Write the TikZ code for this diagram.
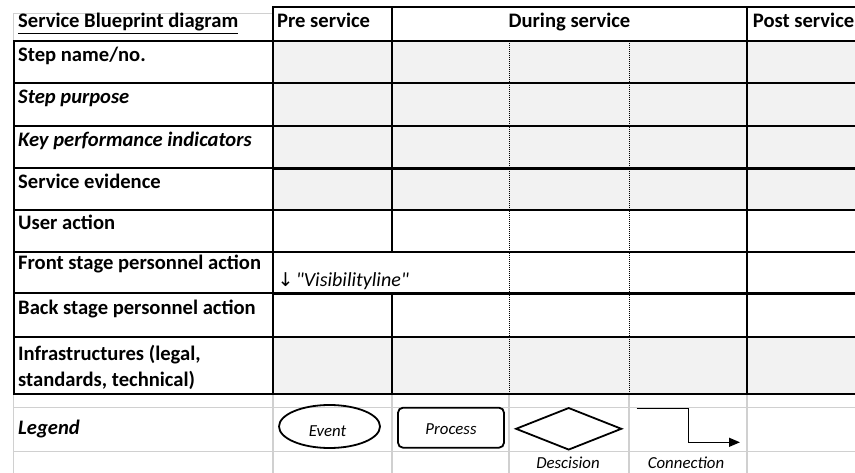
\documentclass[tikz,border=0pt]{standalone}
\usepackage{fontspec}
\setmainfont{Carlito}
\newfontfamily\arrowfont{DejaVu Sans}
\newfontfamily\visfont[Ligatures=TeXOff]{Carlito}
\usetikzlibrary{shapes.geometric,arrows.meta}
\definecolor{cellgray}{HTML}{F2F2F2}
\definecolor{gridgray}{HTML}{D0D0D0}
\begin{document}
\begin{tikzpicture}[x=1pt,y=-1pt,
  lab/.style={anchor=base west,inner sep=0pt,font=\fontsize{20.6}{26.7}\selectfont\bfseries},
  hdr/.style={anchor=base,inner sep=0pt,font=\fontsize{20.6}{26.7}\selectfont\bfseries},
  leg/.style={inner sep=0pt,font=\fontsize{16.8}{20}\selectfont\itshape},
  rule/.style={line width=2pt,line cap=rect},
  thickrule/.style={line width=3.4pt},
  dots/.style={line width=1pt,dash pattern=on 1pt off 1pt},
  grid/.style={gridgray,line width=1.3pt},
  shp/.style={draw,line width=1.8pt}]
\useasboundingbox (0,0) rectangle (855,473);
% fills
\fill[cellgray] (273,40.7) rectangle (855,210);
\fill[cellgray] (273,336.7) rectangle (855,394);
% light grid
\draw[grid] (13.5,40.7) |- (273,13.3);
\foreach \y in {407.3,451.7} \draw[grid] (13.5,\y) -- (855,\y);
\foreach \x in {13.5,273,392,509,629,747} \draw[grid] (\x,394) -- (\x,473);
% dotted column lines
\draw[dots] (509,40.7) -- (509,394);
\draw[dots] (629,40.7) -- (629,394);
% solid lines
\draw[rule] (273,7.5) -- (855,7.5);
\foreach \y in {40.7,82.7,126,210,252,336.7,394} \draw[rule] (13.5,\y) -- (855,\y);
\draw[rule] (13.5,168.3) -- (273,168.3);
\draw[rule] (13.5,293.5) -- (273,293.5);
\draw[thickrule] (273,168.3) -- (855,168.3);
\draw[thickrule] (273,293.5) -- (855,293.5);
\draw[rule] (13.5,40.7) -- (13.5,394);
\draw[rule] (273,7.5) -- (273,394);
\draw[rule] (392,7.5) -- (392,252);
\draw[rule] (392,293.5) -- (392,394);
\draw[rule] (747,7.5) -- (747,394);
% header
\node[lab] (title) at (18,28) {\underline{Service Blueprint diagram}};
\node[lab] (pre) at (277,27.5) {Pre service};
\node[hdr] (during) at (569.5,27.5) {During service};
\node[lab] (post) at (752.7,27.5) {Post service};
% row labels
\node[lab] (r1) at (18,61.7) {Step name/no.};
\node[lab] (r2) at (18,104) {\itshape Step purpose};
\node[lab] (r3) at (18,146.7) {\itshape Key performance indicators};
\node[lab] (r4) at (18,188.3) {Service evidence};
\node[lab] (r5) at (18,230) {User action};
\node[lab] (r6) at (18,270) {Front stage personnel action};
\node[lab] (r7) at (18,315) {Back stage personnel action};
\node[lab] (r8a) at (18,360) {Infrastructures (legal,};
\node[lab] (r8b) at (18,386.7) {standards, technical)};
\node[lab] (r9) at (18,435) {\itshape Legend};
\node[anchor=base west,inner sep=0pt] (vis) at (277.5,287) {{\arrowfont\fontsize{19}{20}\selectfont ↓}\ {\visfont\itshape\fontsize{20}{24}\selectfont "Visibilityline"}};
% legend shapes
\node[shp,ellipse,minimum width=101pt,minimum height=43pt,inner sep=0pt] (event) at (329.5,426.5) {};
\node[leg,anchor=base] (eventt) at (327.5,436) {Event};
\node[shp,rounded corners=5pt,minimum width=106pt,minimum height=40pt,inner sep=0pt] (process) at (451,427.7) {};
\node[leg,anchor=base] (processt) at (451,434) {Process};
\node[shp,diamond,minimum width=106pt,minimum height=42.3pt,inner sep=0pt] (dec) at (568.7,428.8) {};
\coordinate (c1) at (636.7,408.3);
\coordinate (c2) at (740,442.3);
\draw[line width=1.3pt,-{Triangle[length=11pt,width=9pt]}] (c1) -| (688.3,442.3) -- (c2);
\node[leg,anchor=base] (dect) at (568,468.3) {Descision};
\node[leg,anchor=base] (cont) at (686,468.3) {Connection};
\end{tikzpicture}
\end{document}
